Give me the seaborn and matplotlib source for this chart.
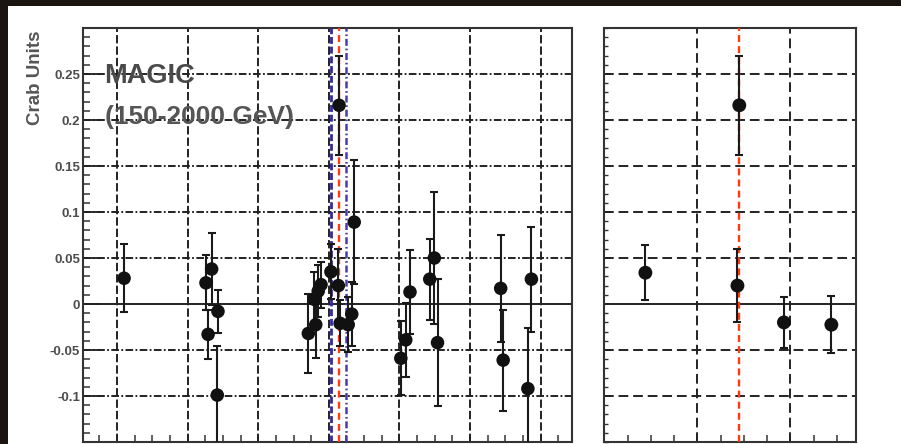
import numpy as np
import pandas as pd
import matplotlib
matplotlib.use("Agg")
import matplotlib.pyplot as plt
import seaborn as sns
from matplotlib.ticker import MultipleLocator, FixedLocator
from matplotlib.patches import Rectangle

# ---------------- data ----------------
# Left panel: light curve, time in days (arbitrary origin)
left_t = [11.0,
          22.6, 23.4, 22.9, 24.3, 24.2,
          37.1, 38.15, 37.95, 38.5, 38.9, 40.3, 41.35, 41.45, 41.6, 43.25, 42.75, 43.6,
          50.2, 50.9, 51.5, 54.3, 54.95, 55.4,
          64.35, 64.7, 68.7, 68.2]
left_flux = [0.028,
             0.023, 0.038, -0.033, -0.008, -0.099,
             -0.032, -0.0225, 0.005, 0.014, 0.021, 0.035, 0.020, 0.216, -0.021, -0.011, -0.0225, 0.089,
             -0.059, -0.039, 0.013, 0.027, 0.050, -0.042,
             0.017, -0.061, 0.027, -0.092]
left_err = [0.037,
            0.030, 0.039, 0.027, 0.023, 0.053,
            0.043, 0.036, 0.030, 0.028, 0.025, 0.030, 0.040, 0.054, 0.025, 0.035, 0.030, 0.067,
            0.040, 0.040, 0.046, 0.044, 0.072, 0.069,
            0.058, 0.055, 0.057, 0.066]

# Right panel: zoom on the flare night
right_t = [0.44, 1.43, 1.45, 1.93, 2.44]
right_flux = [0.034, 0.020, 0.216, -0.020, -0.0225]
right_err = [0.030, 0.040, 0.054, 0.028, 0.031]

flare_left = 41.45
window_left = [40.35, 42.5]
flare_right = 1.45

y_ticks = [-0.1, -0.05, 0, 0.05, 0.1, 0.15, 0.2, 0.25]
y_tick_labels = ["-0.1", "-0.05", "0", "0.05", "0.1", "0.15", "0.2", "0.25"]

left_df = pd.DataFrame({"t": left_t, "flux": left_flux, "err": left_err})
right_df = pd.DataFrame({"t": right_t, "flux": right_flux, "err": right_err})

# ---------------- style ----------------
sns.set_theme(style="white")
plt.rcParams["font.family"] = ["Liberation Sans", "DejaVu Sans"]
plt.rcParams["lines.scale_dashes"] = False

W, H = 901, 444
fig = plt.figure(figsize=(W / 100, H / 100), dpi=100)
fig.patch.set_facecolor("#1b1512")
fig.add_artist(Rectangle((8 / W, 0), 1 - 8 / W, (H - 6) / H, transform=fig.transFigure,
                         facecolor="white", edgecolor="none", zorder=0))

ylo, yhi = -0.15, 0.30
ax_l = fig.add_axes([83 / W, 2 / H, 489 / W, 414 / H])
ax_r = fig.add_axes([604 / W, 2 / H, 252 / W, 414 / H])

grid_col = "#222222"
spine_col = "#333333"


def frame(ax):
    ax.set_facecolor("white")
    for s in ax.spines.values():
        s.set_color(spine_col)
        s.set_linewidth(1.5)
        s.set_visible(True)
    ax.set_ylim(ylo, yhi)
    ax.yaxis.set_major_locator(FixedLocator(y_ticks))
    ax.yaxis.set_minor_locator(MultipleLocator(0.01))
    ax.axhline(0, color="#222222", lw=1.4, zorder=2)


# ---- left panel ----
frame(ax_l)
ax_l.set_xlim(5.18, 74.45)
ax_l.xaxis.set_major_locator(MultipleLocator(10))
ax_l.xaxis.set_minor_locator(MultipleLocator(2.5))
for xv in np.arange(10, 71, 10):
    ax_l.axvline(xv, color=grid_col, lw=1.4, ls=(0, (6, 2.2)), zorder=1)
for yv in y_ticks:
    if yv != 0:
        ax_l.axhline(yv, color=grid_col, lw=1.4, ls=(0, (5.5, 1.7, 1.3, 1.7)), zorder=1)
ax_l.set_yticklabels(y_tick_labels)
ax_l.tick_params(axis="y", which="major", direction="in", length=12, width=1.4,
                 color=spine_col, labelsize=9.5, labelcolor="#4d4d4d", pad=2, left=True)
ax_l.tick_params(axis="y", which="minor", direction="in", length=5, width=1.1,
                 color=spine_col, left=True)
ax_l.tick_params(axis="x", which="both", direction="in", length=5, width=1.1,
                 color=spine_col, bottom=True, labelbottom=False)
for lab in ax_l.get_yticklabels():
    lab.set_fontweight("bold")

ax_l.axvline(window_left[0], color="#35299c", lw=2.0, ls=(0, (5, 2)), zorder=3)
ax_l.axvline(window_left[1], color="#4a3ab0", lw=1.8, ls=(0, (5, 2, 1.2, 2)), zorder=3)
ax_l.axvline(flare_left, color="#ff3a10", lw=1.7, ls=(0, (5, 3)), zorder=3)

ax_l.errorbar(left_df["t"], left_df["flux"], yerr=left_df["err"], fmt="none",
              ecolor="#1a1a1a", elinewidth=1.5, capsize=3, capthick=1.5, zorder=4)
sns.scatterplot(data=left_df, x="t", y="flux", ax=ax_l, color="#111111", s=95,
                edgecolor="none", zorder=5, legend=False)
ax_l.set_xlabel("")
ax_l.set_ylabel("")

# ---- right panel ----
frame(ax_r)
ax_r.set_xlim(-0.005, 2.705)
ax_r.xaxis.set_major_locator(MultipleLocator(1))
ax_r.xaxis.set_minor_locator(MultipleLocator(0.25))
for xv in [1, 2]:
    ax_r.axvline(xv, color=grid_col, lw=1.4, ls=(0, (7, 3.5)), zorder=1)
for yv in y_ticks:
    if yv != 0:
        ax_r.axhline(yv, color=grid_col, lw=1.4, ls=(0, (7, 3.5)), zorder=1)
ax_r.tick_params(axis="y", which="major", direction="in", length=4, width=1.1,
                 color=spine_col, left=True, labelleft=False)
ax_r.tick_params(axis="y", which="minor", direction="in", length=3, width=1.0,
                 color=spine_col, left=True)
ax_r.tick_params(axis="x", which="both", direction="in", length=5, width=1.1,
                 color=spine_col, bottom=True, labelbottom=False)
ax_r.axvline(flare_right, color="#ff3a10", lw=1.7, ls=(0, (5, 3)), zorder=3)
ax_r.errorbar(right_df["t"], right_df["flux"], yerr=right_df["err"], fmt="none",
              ecolor="#1a1a1a", elinewidth=1.5, capsize=3, capthick=1.5, zorder=4)
sns.scatterplot(data=right_df, x="t", y="flux", ax=ax_r, color="#111111", s=100,
                edgecolor="none", zorder=5, legend=False)
ax_r.set_xlabel("")
ax_r.set_ylabel("")

# ---- texts ----
fig.text(35 / W, (H - 78) / H, "Crab Units", rotation=90, ha="center", va="center",
         fontsize=13.5, fontweight="bold", color="#555555")
fig.text(104 / W, (H - 83) / H, "MAGIC", ha="left", va="baseline",
         fontsize=19.5, fontweight="bold", color="#4a4a4a", zorder=2)
fig.text(105 / W, (H - 124) / H, "(150-2000 GeV)", ha="left", va="baseline",
         fontsize=19, fontweight="bold", color="#555555", zorder=2)

fig.savefig("out.png", dpi=100, facecolor=fig.get_facecolor())
